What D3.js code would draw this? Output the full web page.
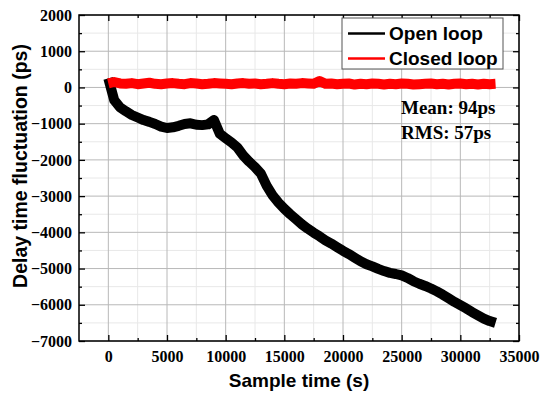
<!DOCTYPE html>
<html>
<head>
<meta charset="utf-8">
<script src="https://cdn.jsdelivr.net/npm/d3@7"></script>
<style>
  body { margin: 0; background: #fff; }
  svg { display: block; }
</style>
</head>
<body>
<div id="viz"></div>
<script>
// sample times (s), one reading every 500 s
var sampleTime = d3.range(0, 33001, 500);

// open loop delay (ps)
var openLoop = [
  250, -350, -550, -660, -760, -830, -900, -950, -1010, -1080,
  -1120, -1100, -1060, -1010, -990, -1030, -1040, -1020, -900, -1280,
  -1400, -1520, -1660, -1880, -2050, -2200, -2380, -2720, -2980, -3180,
  -3350, -3500, -3640, -3780, -3900, -4010, -4110, -4220, -4310, -4410,
  -4510, -4600, -4700, -4800, -4880, -4940, -5010, -5070, -5120, -5150,
  -5190, -5260, -5350, -5420, -5480, -5550, -5630, -5720, -5820, -5920,
  -6010, -6100, -6200, -6290, -6380, -6450, -6500
];

// closed loop delay (ps)
var closedLoop = [
  110, 150, 110, 100, 120, 90, 110, 130, 100, 90,
  110, 120, 100, 90, 120, 110, 90, 100, 120, 110,
  100, 90, 110, 120, 100, 110, 90, 100, 120, 100,
  90, 110, 100, 120, 110, 100, 180, 100, 110, 90,
  100, 110, 80, 100, 90, 110, 100, 80, 100, 90,
  110, 100, 80, 90, 100, 110, 90, 100, 80, 100,
  110, 90, 100, 80, 100, 90, 100
];

var xMajor = [0, 5000, 10000, 15000, 20000, 25000, 30000, 35000];
var xMinor = [-2500, 2500, 7500, 12500, 17500, 22500, 27500, 32500];
var yMajor = [-7000, -6000, -5000, -4000, -3000, -2000, -1000, 0, 1000, 2000];
var yMinor = [-6500, -5500, -4500, -3500, -2500, -1500, -500, 500, 1500];

var legendNames = ["Open loop", "Closed loop"];
var legendColors = ["#000000", "#ff0000"];
var statLines = ["Mean: 94ps", "RMS: 57ps"];

var w = 542, h = 396;
var margin = {top: 15, right: 23, bottom: 55, left: 79};

var svg = d3.select("#viz").append("svg")
            .attr("width", w)
            .attr("height", h);

var x = d3.scaleLinear().domain([-2500, 35000]).range([margin.left, w - margin.right]);
var y = d3.scaleLinear().domain([-7000, 2000]).range([h - margin.bottom, margin.top]);

var serif = "'Liberation Serif', 'Times New Roman', serif";
var sans = "'Liberation Sans', Arial, sans-serif";

// grid, minor first then major
var grid = svg.append("g");
grid.selectAll("line.xm").data(xMinor).enter().append("line")
    .attr("x1", x).attr("x2", x).attr("y1", y(-7000)).attr("y2", y(2000))
    .style("stroke", "#e8e8e8").style("stroke-width", 1);
grid.selectAll("line.ym").data(yMinor).enter().append("line")
    .attr("x1", x(-2500)).attr("x2", x(35000)).attr("y1", y).attr("y2", y)
    .style("stroke", "#e8e8e8").style("stroke-width", 1);
grid.selectAll("line.xM").data(xMajor).enter().append("line")
    .attr("x1", x).attr("x2", x).attr("y1", y(-7000)).attr("y2", y(2000))
    .style("stroke", "#b8b8b8").style("stroke-width", 1);
grid.selectAll("line.yM").data(yMajor).enter().append("line")
    .attr("x1", x(-2500)).attr("x2", x(35000)).attr("y1", y).attr("y2", y)
    .style("stroke", "#b8b8b8").style("stroke-width", 1);

// traces
svg.append("clipPath").attr("id", "clip")
   .append("rect")
   .attr("x", x(-2500)).attr("y", y(2000))
   .attr("width", x(35000) - x(-2500)).attr("height", y(-7000) - y(2000));

var line = function(vals) {
  return d3.line()
           .x(function(d, i){ return x(sampleTime[i]); })
           .y(function(d){ return y(d); })(vals);
};

svg.append("path")
   .attr("clip-path", "url(#clip)")
   .attr("d", line(openLoop))
   .style("fill", "none")
   .style("stroke", "#000")
   .style("stroke-width", 10)
   .style("stroke-linejoin", "round");

svg.append("path")
   .attr("clip-path", "url(#clip)")
   .attr("d", line(closedLoop))
   .style("fill", "none")
   .style("stroke", "#ff0000")
   .style("stroke-width", 10)
   .style("stroke-linejoin", "round");

// axes
var styleAxis = function(g) {
  g.select(".domain").remove();
  g.selectAll(".tick line").style("stroke", "#000").style("stroke-width", 1.3);
  g.selectAll("text").style("font-family", serif).style("font-weight", "bold")
   .style("font-size", "16px").style("fill", "#000");
};

svg.append("g").attr("transform", "translate(0," + y(-7000) + ")")
   .call(d3.axisBottom(x).tickValues(xMajor).tickSizeInner(-6).tickSizeOuter(0)
           .tickPadding(10).tickFormat(d3.format("d")))
   .call(styleAxis);
svg.append("g").attr("transform", "translate(0," + y(-7000) + ")")
   .call(d3.axisBottom(x).tickValues(xMinor.slice(1)).tickSizeInner(-3).tickSizeOuter(0).tickFormat(""))
   .call(styleAxis);
svg.append("g").attr("transform", "translate(0," + y(2000) + ")")
   .call(d3.axisTop(x).tickValues(xMajor).tickSizeInner(-6).tickSizeOuter(0).tickFormat(""))
   .call(styleAxis);
svg.append("g").attr("transform", "translate(0," + y(2000) + ")")
   .call(d3.axisTop(x).tickValues(xMinor.slice(1)).tickSizeInner(-3).tickSizeOuter(0).tickFormat(""))
   .call(styleAxis);

svg.append("g").attr("transform", "translate(" + x(-2500) + ",0)")
   .call(d3.axisLeft(y).tickValues(yMajor).tickSizeInner(-6).tickSizeOuter(0)
           .tickPadding(7).tickFormat(d3.format("d")))
   .call(styleAxis);
svg.append("g").attr("transform", "translate(" + x(-2500) + ",0)")
   .call(d3.axisLeft(y).tickValues(yMinor).tickSizeInner(-3).tickSizeOuter(0).tickFormat(""))
   .call(styleAxis);
svg.append("g").attr("transform", "translate(" + x(35000) + ",0)")
   .call(d3.axisRight(y).tickValues(yMajor).tickSizeInner(-6).tickSizeOuter(0).tickFormat(""))
   .call(styleAxis);
svg.append("g").attr("transform", "translate(" + x(35000) + ",0)")
   .call(d3.axisRight(y).tickValues(yMinor).tickSizeInner(-3).tickSizeOuter(0).tickFormat(""))
   .call(styleAxis);

// frame
svg.append("rect")
   .attr("x", x(-2500)).attr("y", y(2000))
   .attr("width", x(35000) - x(-2500)).attr("height", y(-7000) - y(2000))
   .style("fill", "none").style("stroke", "#000").style("stroke-width", 1.5);

// axis titles
svg.append("text")
   .attr("x", (x(-2500) + x(35000)) / 2).attr("y", 387)
   .attr("text-anchor", "middle")
   .style("font-family", sans).style("font-weight", "bold").style("font-size", "19px")
   .text("Sample time (s)");

svg.append("text")
   .attr("transform", "translate(27,166) rotate(-90)")
   .attr("text-anchor", "middle")
   .style("font-family", sans).style("font-weight", "bold").style("font-size", "19.5px")
   .text("Delay time fluctuation (ps)");

// legend
var lg = svg.append("g").attr("transform", "translate(342,18)");
lg.append("rect").attr("width", 161).attr("height", 51)
  .style("fill", "#fff").style("stroke", "#555").style("stroke-width", 1);
var items = lg.selectAll("g.item").data(legendNames).enter().append("g")
  .attr("transform", function(d, i){ return "translate(0," + (15.5 + i * 25) + ")"; });
items.append("line").attr("x1", 6).attr("x2", 43).attr("y1", 0).attr("y2", 0)
  .style("stroke", function(d, i){ return legendColors[i]; }).style("stroke-width", 2.5);
items.append("text").attr("x", 47).attr("y", 6.5)
  .style("font-family", sans).style("font-weight", "bold").style("font-size", "19px")
  .text(function(d){ return d; });

// statistics note
svg.selectAll("text.stat").data(statLines).enter().append("text")
   .attr("class", "stat")
   .attr("x", 401).attr("y", function(d, i){ return 114 + i * 25; })
   .style("font-family", serif).style("font-weight", "bold").style("font-size", "19px")
   .text(function(d){ return d; });
</script>
</body>
</html>
